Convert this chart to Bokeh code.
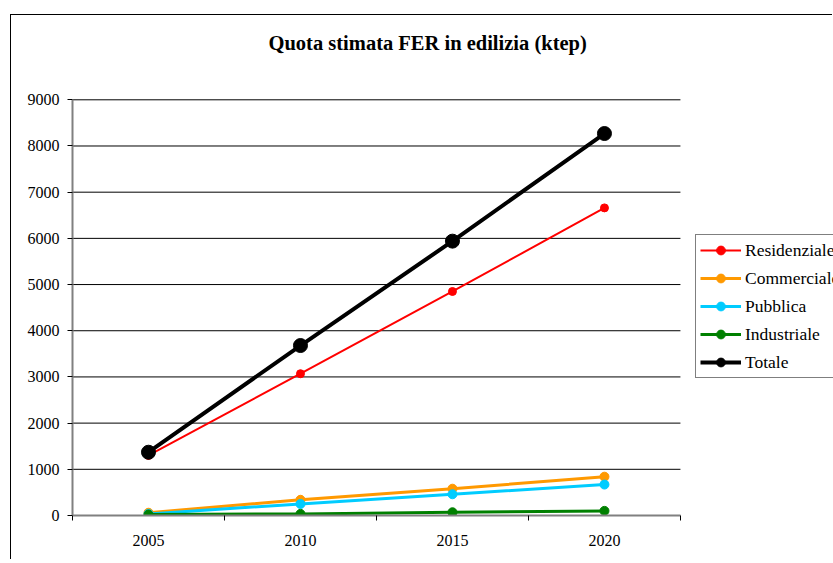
from bokeh.plotting import figure
from bokeh.models import (Range1d, LinearAxis, FixedTicker, SingleIntervalTicker,
                          Legend, LegendItem, Title)
from bokeh.embed import file_html
from bokeh.resources import INLINE

years = ["2005", "2010", "2015", "2020"]
residenziale = [1300, 3070, 4850, 6660]
commerciale = [60, 340, 580, 840]
pubblica = [35, 250, 460, 670]
industriale = [20, 35, 70, 100]
totale = [1370, 3680, 5940, 8270]
y_max = 9000
y_step = 1000

series = [
    ("Residenziale", residenziale, "#FF0000", 2, 8),
    ("Commerciale", commerciale, "#FF9900", 3, 9),
    ("Pubblica", pubblica, "#00CCFF", 3, 9),
    ("Industriale", industriale, "#008000", 3, 9),
    ("Totale", totale, "#000000", 4, 14),
]

FONT = "Liberation Serif"
n = len(years)
xs = [i + 0.5 for i in range(n)]          # category centres on the scale
bounds = [i for i in range(n + 1)]         # category boundaries

# frame runs to the right edge of the canvas so the legend can sit outside the plot area
p = figure(width=822, height=545, x_range=Range1d(0, 5.007), y_range=Range1d(0, 9050),
           output_backend="svg", toolbar_location=None, x_axis_location=None,
           min_border_left=61, min_border_right=0, min_border_top=82, min_border_bottom=45)
p.margin = (14, 0, 0, 10)
p.styles = {"border-left": "1px solid black", "border-top": "1px solid black"}
p.outline_line_color = None
p.background_fill_color = "white"
p.border_fill_color = "white"
p.xgrid.visible = False
p.ygrid.visible = False

# y axis
p.yaxis.ticker = SingleIntervalTicker(interval=y_step)
p.yaxis.bounds = (0, y_max)
p.yaxis.axis_line_color = "#808080"
p.yaxis.axis_line_width = 2
p.yaxis.major_tick_line_color = "black"
p.yaxis.major_tick_out = 5
p.yaxis.major_tick_in = 0
p.yaxis.minor_tick_line_color = None
p.yaxis.major_label_standoff = 8
p.yaxis.major_label_text_font = FONT
p.yaxis.major_label_text_font_size = "16px"
p.yaxis.major_label_text_color = "black"

# horizontal grid lines limited to the plot area
grid_vals = list(range(y_step, y_max + 1, y_step))
p.segment(x0=[0] * len(grid_vals), x1=[n] * len(grid_vals), y0=grid_vals, y1=grid_vals,
          line_color="black", line_width=1, level="underlay")

# x axis: labels centred on categories, tick marks on category boundaries
xaxis = LinearAxis(ticker=FixedTicker(ticks=xs, minor_ticks=bounds),
                   major_label_overrides={c: y for c, y in zip(xs, years)})
xaxis.bounds = (0, n)
xaxis.axis_line_color = "#808080"
xaxis.axis_line_width = 2
xaxis.major_tick_line_color = None
xaxis.minor_tick_line_color = "black"
xaxis.minor_tick_out = 5
xaxis.minor_tick_in = 0
xaxis.major_tick_out = 5
xaxis.major_label_standoff = 14
xaxis.major_label_text_font = FONT
xaxis.major_label_text_font_size = "16px"
xaxis.major_label_text_color = "black"
p.add_layout(xaxis, "below")

# title (spacer panel first, nearest the frame)
p.add_layout(Title(text=" ", text_font_size="10px", standoff=26), "above")
p.add_layout(Title(text="Quota stimata FER in edilizia (ktep)", text_font=FONT,
                   text_font_size="20.5px", text_font_style="bold", text_color="black",
                   align="left", offset=196, standoff=10), "above")

items = []
for name, vals, color, lw, ms in series:
    r1 = p.line(xs, vals, line_color=color, line_width=lw)
    r2 = p.scatter(xs, vals, marker="circle", size=ms, fill_color=color, line_color=color)
    items.append(LegendItem(label=name, renderers=[r1, r2]))

legend = Legend(items=items, location=(623, 137))
legend.border_line_color = "black"
legend.border_line_width = 1
legend.background_fill_color = "white"
legend.background_fill_alpha = 1
legend.label_text_font = FONT
legend.label_text_font_size = "17.5px"
legend.label_text_color = "black"
legend.glyph_width = 41
legend.glyph_height = 22
legend.label_height = 22
legend.spacing = 6
legend.padding = 4
legend.label_standoff = 4
legend.margin = 0
p.add_layout(legend)

open("out.html", "w").write(file_html(p, INLINE))
